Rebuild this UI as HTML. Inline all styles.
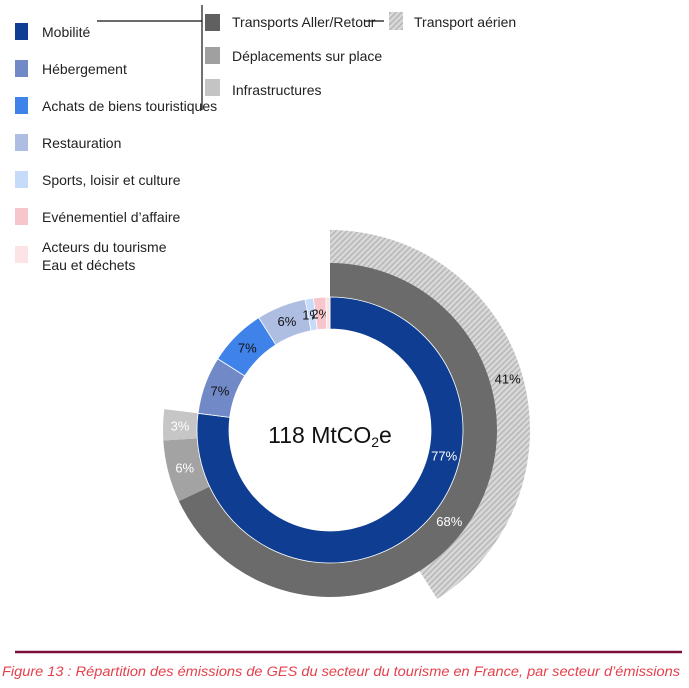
<!DOCTYPE html>
<html><head><meta charset="utf-8"><style>
body{margin:0;width:689px;height:688px;background:#fff;overflow:hidden;font-family:"Liberation Sans",sans-serif}
svg{display:block}
</style></head><body>
<svg width="689" height="688">
<defs>
<pattern id="hatch" width="4" height="4" patternUnits="userSpaceOnUse" patternTransform="rotate(45)">
<rect width="4" height="4" fill="#d9d9d9"/><rect width="1.6" height="4" fill="#b8b8b8"/>
</pattern>
</defs>
<g id="legend" font-size="14" fill="#222">
<rect x="15" y="23" width="13" height="17" fill="#0f3d91"/>
<text x="42" y="37">Mobilité</text>
<rect x="15" y="60" width="13" height="17" fill="#7189c6"/>
<text x="42" y="74">Hébergement</text>
<rect x="15" y="97" width="13" height="17" fill="#3f82ea"/>
<text x="42" y="111">Achats de biens touristiques</text>
<rect x="15" y="134" width="13" height="17" fill="#aebde2"/>
<text x="42" y="148">Restauration</text>
<rect x="15" y="171" width="13" height="17" fill="#c6dafa"/>
<text x="42" y="185">Sports, loisir et culture</text>
<rect x="15" y="208" width="13" height="17" fill="#f7c6cd"/>
<text x="42" y="222">Evénementiel d’affaire</text>
<rect x="15" y="246" width="13" height="17" fill="#fbe3e6"/>
<text x="42" y="252">Acteurs du tourisme</text>
<text x="42" y="270">Eau et déchets</text>
<line x1="97" y1="21" x2="202" y2="21" stroke="#111" stroke-width="1.2"/>
<line x1="202" y1="5" x2="202" y2="110" stroke="#111" stroke-width="1.2"/>
<rect x="205" y="14" width="15" height="17" fill="#606060"/>
<text x="232" y="27">Transports Aller/Retour</text>
<rect x="205" y="47" width="15" height="17" fill="#a0a0a0"/>
<text x="232" y="61">Déplacements sur place</text>
<rect x="205" y="79" width="15" height="17" fill="#c4c4c4"/>
<text x="232" y="95">Infrastructures</text>
<line x1="364" y1="21" x2="384" y2="21" stroke="#111" stroke-width="1.2"/>
<rect x="389" y="12" width="14" height="18" fill="url(#hatch)"/>
<text x="414" y="27">Transport aérien</text>
</g>
<g id="rings"></g>
<text x="330" y="443" text-anchor="middle" font-size="23" fill="#111">118 MtCO<tspan font-size="14" dy="4">2</tspan><tspan dy="-4">e</tspan></text>
<line x1="15" y1="652" x2="682" y2="652" stroke="#7a0f3a" stroke-width="2.5"/>
<text x="2" y="676" font-size="13.5" font-style="italic" fill="#e5404c" textLength="678" lengthAdjust="spacingAndGlyphs">Figure 13 : Répartition des émissions de GES du secteur du tourisme en France, par secteur d’émissions</text>
</svg>
<script>
const innerCategories=["Mobilité","Hébergement","Achats de biens touristiques","Restauration","Sports, loisir et culture","Evénementiel d'affaire","Acteurs du tourisme"];
const innerValues=[77,7,7,6,1,1.5,0.5];
const innerLabels=["77%","7%","7%","6%","1%","2%",""];
const innerColors=["#0f3d91","#7189c6","#3f82ea","#aebde2","#c6dafa","#f7c6cd","#fbe3e6"];
const innerTextColors=["#fff","#111","#111","#111","#111","#111","#111"];
const mobilityCategories=["Transports Aller/Retour","Déplacements sur place","Infrastructures"];
const mobilityValues=[68,6,3];
const mobilityLabels=["68%","6%","3%"];
const mobilityColors=["#6b6b6b","#a3a3a3","#c6c6c6"];
const airValues=[41];
const airLabels=["41%"];
const cx=330,cy=430;
const NS="http://www.w3.org/2000/svg";
const g=document.getElementById("rings");
function ang(p){return p/100*2*Math.PI;}
function pt(a,r){return [cx+r*Math.sin(a),cy-r*Math.cos(a)];}
function arc(p0,p1,r0,r1){
 const a0=ang(p0),a1=ang(p1),lg=(a1-a0)>Math.PI?1:0;
 const A=pt(a0,r1),B=pt(a1,r1),C=pt(a1,r0),D=pt(a0,r0);
 return `M${A}A${r1},${r1} 0 ${lg} 1 ${B}L${C}A${r0},${r0} 0 ${lg} 0 ${D}Z`;
}
function ring(vals,labels,fills,tcols,r0,r1,name,lr,stroke){
 let s=0;
 vals.forEach((v,i)=>{
  const p=document.createElementNS(NS,"path");
  p.setAttribute("d",arc(s,s+v,r0,r1));
  p.setAttribute("fill",fills[i]);
  if(stroke){p.setAttribute("stroke","#fff");p.setAttribute("stroke-width","0.8");}
  
  
  g.appendChild(p);
  if(labels[i]){
   const m=pt(ang(s+v/2),lr||(r0+r1)/2);
   let pos=m;
   if(name==="inner-ring"&&i===0)pos=pt(ang(s+v*0.37),(r0+r1)/2);
   if(name==="mobility-ring"&&i===0)pos=pt(ang(s+v*0.52),(r0+r1)/2);
   const t=document.createElementNS(NS,"text");
   t.setAttribute("x",pos[0]);t.setAttribute("y",pos[1]+5);
   t.setAttribute("text-anchor","middle");t.setAttribute("font-size","13");
   t.setAttribute("fill",tcols[i]);
   t.textContent=labels[i];
   
   
   g.appendChild(t);
  }
  s+=v;
 });
}
ring(airValues,airLabels,["url(#hatch)"],["#111"],166,200,"air-ring",185);
ring(mobilityValues,mobilityLabels,mobilityColors,["#fff","#fff","#fff"],133,167,"mobility-ring");
ring(innerValues,innerLabels,innerColors,innerTextColors,101,133,"inner-ring",null,true);
</script>
</body></html>
